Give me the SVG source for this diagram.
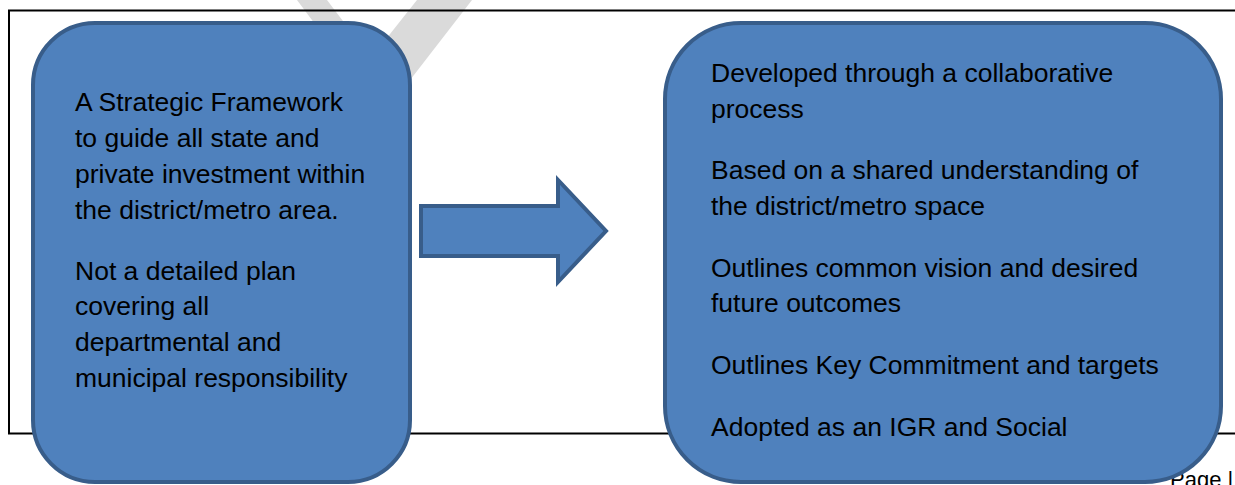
<svg xmlns="http://www.w3.org/2000/svg" width="1235" height="485" viewBox="0 0 1235 485">
  <style>
    .box { fill: #4f81bd; stroke: #385d8a; stroke-width: 4; }
    .txt { font-family: "Liberation Sans", Arial, sans-serif; font-size: 26.5px; fill: #000000; }
    .frame { stroke: #000000; stroke-width: 2; fill: none; }
    .footer { font-family: "Liberation Sans", Arial, sans-serif; font-size: 22px; fill: #000000; }
  </style>
  <rect x="0" y="0" width="1235" height="485" fill="#ffffff"/>
  <g id="watermark">
    <polygon points="297,0 327,0 371,58 417,0 472,0 383,115" fill="#dadada"/>
  </g>
  <g id="frame">
    <polyline class="frame" points="1235,10.5 9,10.5 9,433.5 1235,433.5"/>
  </g>
  <text id="page-footer" class="footer" x="1170" y="487">Page |</text>
  <g id="node-left">
    <rect class="box" x="33" y="23" width="377" height="459" rx="62" ry="62"/>
    <text class="txt" x="75" y="111">A Strategic Framework</text>
    <text class="txt" x="75" y="147">to guide all state and</text>
    <text class="txt" x="75" y="183">private investment within</text>
    <text class="txt" x="75" y="219">the district/metro area.</text>
    <text class="txt" x="75" y="280">Not a detailed plan</text>
    <text class="txt" x="75" y="315">covering all</text>
    <text class="txt" x="75" y="351">departmental and</text>
    <text class="txt" x="75" y="387">municipal responsibility</text>
  </g>
  <g id="connectors">
    <polygon class="box" points="421,206 558,206 558,180 606,231 558,282 558,256 421,256"/>
  </g>
  <g id="node-right">
    <rect class="box" x="665" y="23" width="556" height="459" rx="76" ry="76"/>
    <text class="txt" x="711" y="82">Developed through a collaborative</text>
    <text class="txt" x="711" y="118">process</text>
    <text class="txt" x="711" y="179">Based on a shared understanding of</text>
    <text class="txt" x="711" y="215">the district/metro space</text>
    <text class="txt" x="711" y="277">Outlines common vision and desired</text>
    <text class="txt" x="711" y="312">future outcomes</text>
    <text class="txt" x="711" y="374">Outlines Key Commitment and targets</text>
    <text class="txt" x="711" y="436">Adopted as an IGR and Social</text>
  </g>
</svg>
